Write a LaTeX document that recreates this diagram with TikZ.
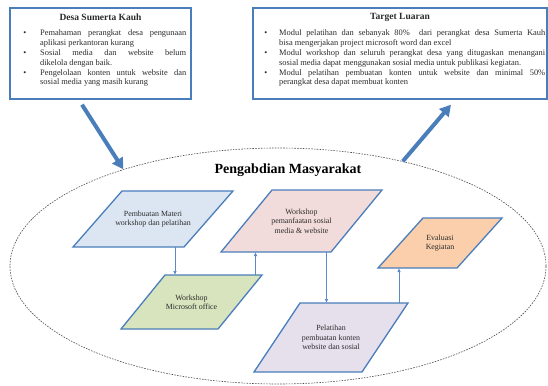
\documentclass[tikz,border=0pt]{standalone}
\usepackage{fontspec}
\setmainfont{Liberation Serif}
\usepackage{enumitem}
\usetikzlibrary{arrows.meta,positioning,shapes.geometric,backgrounds}
\definecolor{Ink}{HTML}{2B2B2B}
\definecolor{BoxEdge}{HTML}{4A7EBB}
\definecolor{LinkEdge}{HTML}{5B8AC6}
\definecolor{MateriFill}{HTML}{DCE6F2}
\definecolor{SosmedFill}{HTML}{F2DCDB}
\definecolor{OfficeFill}{HTML}{D7E4BD}
\definecolor{KontenFill}{HTML}{E5E0EC}
\definecolor{EvalFill}{HTML}{FBCFAC}
\tikzset{
  bigflow/.style={-{Triangle[length=11pt,width=12pt]}, draw=BoxEdge, line width=4pt},
  link/.style={-{Latex[length=4pt,width=3.5pt]}, draw=LinkEdge, line width=0.9pt},
  infobox/.style={draw=BoxEdge, fill=white, line width=1.4pt, inner sep=0pt},
  boxtitle/.style={font=\bfseries\fontsize{9.5}{11}\selectfont, text=Ink},
  boxlist/.style={anchor=north west, inner sep=0pt, align=justify, text=Ink,
    font=\fontsize{8.4}{9.8}\selectfont},
  area/.style={ellipse, draw=black!70, dash pattern=on 1.6pt off 1.2pt, line width=0.6pt, inner sep=0pt},
  proses/.style={rectangle, outer sep=0pt, inner sep=1pt, align=center, text=Ink,
    font=\fontsize{7.9}{9.3}\selectfont},
  prosesedge/.style={draw=BoxEdge, line width=1.3pt, line join=miter},
}

\begin{document}
\begin{tikzpicture}[x=1pt, y=-1pt]
  \useasboundingbox (0,0) rectangle (548,385);

  % Upper boxes: starting condition and expected output.
  \node[infobox, minimum width=181pt, minimum height=91pt] (masalah) at (100.5,53.5) {};
  \node[infobox, minimum width=294pt, minimum height=91pt] (luaran) at (400,53.5) {};

  \node[boxtitle] at ([yshift=-10pt]masalah.north) {Desa Sumerta Kauh};
  \node[boxtitle] at ([yshift=-10pt]luaran.north) {Target Luaran};

  \node[boxlist, text width=165pt] (masalahList) at (21,26) {%
    \begin{itemize}[leftmargin=19pt, labelsep=14pt, itemsep=0pt, topsep=0pt, parsep=0pt, partopsep=0pt]
      \item Pemahaman perangkat desa pengunaan\linebreak aplikasi perkantoran kurang
      \item Sosial media dan website belum\linebreak dikelola dengan baik.
      \item Pengelolaan konten untuk website dan\linebreak sosial media yang masih kurang
    \end{itemize}};
  \node[boxlist, text width=283pt] (luaranList) at (262,26) {%
    \begin{itemize}[leftmargin=17pt, labelsep=12pt, itemsep=0pt, topsep=0pt, parsep=0pt, partopsep=0pt]
      \item Modul pelatihan dan sebanyak 80\%\ \ dari perangkat desa Sumerta Kauh\linebreak bisa mengerjakan project microsoft word dan excel
      \item Modul workshop dan seluruh perangkat desa yang ditugaskan menangani\linebreak sosial media dapat menggunakan sosial media untuk publikasi kegiatan.
      \item Modul pelatihan pembuatan konten untuk website dan minimal 50\%\linebreak perangkat desa dapat membuat konten
    \end{itemize}};

  % Dashed area holding the activity steps.
  \node[area, minimum width=536pt, minimum height=236pt] (pengabdian) at (278,266) {};
  \node[font=\bfseries\fontsize{14}{16}\selectfont, text=black] (judul)
    at ([xshift=10pt,yshift=-22pt]pengabdian.north) {Pengabdian Masyarakat};

  % Steps: the node is the bounding box, the slanted outline goes behind it.
  \node[proses, minimum width=160pt, minimum height=56pt] (materi) at (153,219)
    {Pembuatan Materi\\workshop dan pelatihan};
  \node[proses, minimum width=161pt, minimum height=62pt] (sosmed) at (301.5,221)
    {Workshop\\pemanfaatan sosial\\media \& website};
  \node[proses, minimum width=141pt, minimum height=54pt] (office) at (191.5,302)
    {Workshop\\Microsoft office};
  \node[proses, minimum width=154pt, minimum height=69pt] (konten) at (331,337.5)
    {Pelatihan\\pembuatan konten\\website dan sosial};
  \node[proses, minimum width=124pt, minimum height=50pt] (evaluasi) at (440,243)
    {Evaluasi\\Kegiatan};

  \begin{scope}[on background layer]
    \foreach \n/\s/\c in {materi/49/MateriFill, sosmed/51/SosmedFill, office/44/OfficeFill,
                          konten/46/KontenFill, evaluasi/45/EvalFill}
      \draw[prosesedge, fill=\c] ([xshift=\s pt]\n.north west) -- (\n.north east)
        -- ([xshift=-\s pt]\n.south east) -- (\n.south west) -- cycle;
  \end{scope}

  % Big arrows into and out of the area.
  \draw[bigflow] ([xshift=-18.5pt,yshift=-5pt]masalah.south) -- (pengabdian.148);
  \draw[bigflow] (pengabdian.40) -- ([xshift=51pt,yshift=-5pt]luaran.south);

  % Step-to-step links.
  \draw[link] ([xshift=22pt]materi.south) -- ([xshift=22pt]materi.south |- office.north);
  \draw[link] ([xshift=64pt]office.north) -- ([xshift=64pt]office.north |- sosmed.south);
  \draw[link] ([xshift=25pt]sosmed.south) -- ([xshift=25pt]sosmed.south |- konten.north);
  \draw[link] ([xshift=68pt]konten.north) -- ([xshift=68pt]konten.north |- evaluasi.south);

\end{tikzpicture}
\end{document}
